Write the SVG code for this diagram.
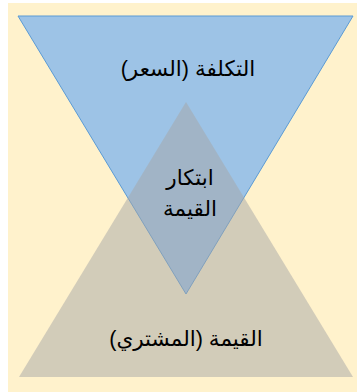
<svg xmlns="http://www.w3.org/2000/svg" width="357" height="392" viewBox="0 0 357 392">
<style>
.lbl{font-family:"Liberation Sans","DejaVu Sans",sans-serif;font-size:21.5px;fill:#000;text-anchor:middle;direction:rtl}
</style>
<rect x="8" y="3" width="349" height="389" fill="#FFF2CC"/>
<g id="cost">
<polygon points="18,16 353,16 186,294" fill="#9DC3E6" stroke="#5B9BD5" stroke-width="1"/>
</g>
<g id="value">
<polygon points="186,102 353,377 19,377" fill="#A5A5A5" fill-opacity="0.5"/>
</g>
<g id="labels">
<text class="lbl" x="188" y="76">التكلفة (السعر)</text>
<text class="lbl" x="190" y="185">ابتكار</text>
<text class="lbl" x="190" y="216">القيمة</text>
<text class="lbl" x="186" y="346">القيمة (المشتري)</text>
</g>
<g id="connectors"/>
</svg>
